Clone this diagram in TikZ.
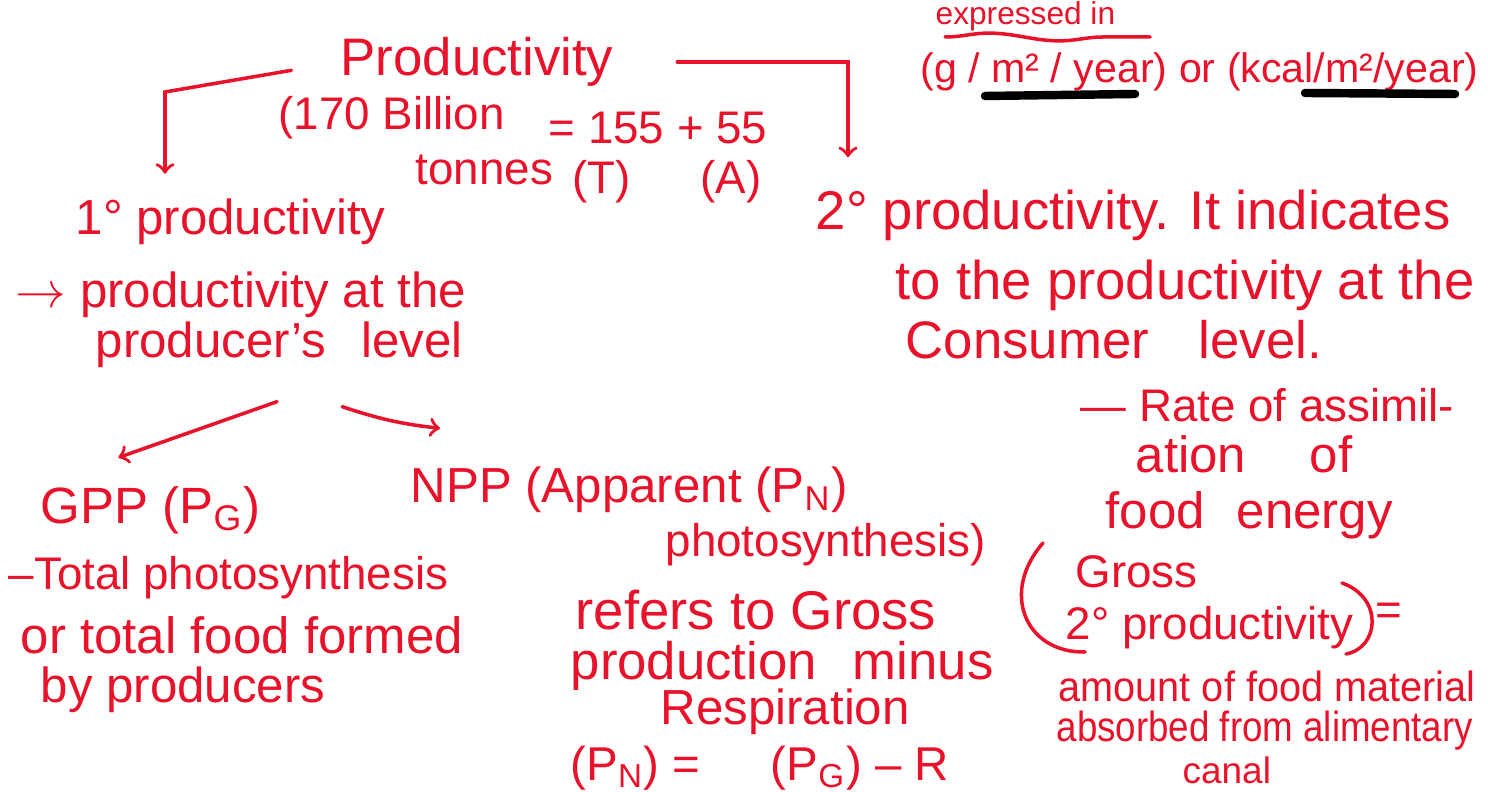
\documentclass[tikz,border=0pt]{standalone}
\usepackage{fontspec}
\setmainfont{Liberation Sans}
\usepackage{tikz}
\usetikzlibrary{positioning, arrows, calc, decorations.pathmorphing}
\definecolor{ink}{RGB}{232,18,42}

\tikzset{
  note/.style={text=ink, font=\fontsize{#1}{#1}\selectfont, inner sep=0pt, anchor=west},
  note/.default=13,
  pen/.style={draw=ink, line width=1pt, line cap=round},
  arr/.style={pen, ->},
  bar/.style={draw=black, line width=2.4pt, line cap=round}
}

\begin{document}
\begin{tikzpicture}[x=0.01cm, y=-0.01cm, >=to]
  \useasboundingbox (0,0) rectangle (1488,792);
  \fill[white] (0,0) rectangle (1488,792);

  % top: units
  \node[note=9] (expr) at (935,16) {expressed in};
  \draw[pen, decorate, decoration={snake, amplitude=1.1pt, segment length=40}] (945,37) -- (1150,37);
  \node[note=11.7] (unit) at (920,72) {(g / m² / year) or (kcal/m²/year)};
  \draw[bar] (985,96) -- (1135,94);
  \draw[bar] (1305,93) -- (1455,94);

  % productivity
  \node[note=15] (prod) at (340,62) {Productivity};
  \node[note] (bil) at (278,118) {(170 Billion};
  \node[note] (ton) at (415,170) {tonnes};
  \node[note] (sum) at (548,128) {= 155 + 55};
  \node[note] (tt) at (572,182) {(T)};
  \node[note] (aa) at (700,182) {(A)};

  % primary
  \node[note=14] (prim) at (75,222) {1° productivity};
  \node[note=14] (lev) at (15,295) {$\rightarrow$ productivity at the};
  \node[note=14] (lvl) at (95,345) {producer's\hspace{6pt} level};

  \node[note=14.5] (gpp) at (40,510) {GPP (P\textsubscript{G})};
  \node[note] (tot1) at (8,578) {–Total photosynthesis};
  \node[note=14.5] (tot2) at (20,635) {or total food formed};
  \node[note=14] (tot3) at (40,690) {by producers};

  \node[note=14] (npp) at (410,490) {NPP (Apparent (P\textsubscript{N})};
  \node[note] (np2) at (665,545) {photosynthesis)};
  \node[note=15.5] (np3) at (575,610) {refers to Gross};
  \node[note=15] (np4) at (570,666) {production\hspace{6pt} minus};
  \node[note=14] (np5) at (660,712) {Respiration};
  \node[note=13.5] (np6) at (570,768) {(P\textsubscript{N}) =\hspace{20pt}(P\textsubscript{G}) – R};

  % secondary
  \node[note=15.5] (sec) at (815,215) {2° productivity. It indicates};
  \node[note=15.5] (s2) at (895,285) {to the productivity at the};
  \node[note=15] (s3) at (905,340) {Consumer\hspace{10pt} level.};
  \node[note] (s4) at (1080,405) {— Rate of assimil-};
  \node[note=14.5] (s5) at (1135,454) {ation\hspace{14pt} of};
  \node[note=14.5] (s6) at (1105,515) {food\hspace{5pt} energy};
  \node[note] (gro) at (1075,572) {Gross};
  \node[note] (gro2) at (1065,628) {2° productivity};
  \node[note] (eqs) at (1375,614) {=};
  \node[note=12] (am1) at (1058,686) {\scalebox{0.94}[1]{amount of food material}};
  \node[note=12] (am2) at (1056,731) {\scalebox{0.87}[1]{absorbed from alimentary}};
  \node[note=10.5] (am3) at (1182,770) {canal};

  % brackets round gross 2° productivity
  \draw[pen] ($(gro.west)+(-32,-29)$) .. controls ($(gro.west)+(-75,20)$) and ($(gro2.west)+(-40,25)$) .. ($(gro2.west)+(20,24)$);
  \draw[pen] ($(gro2.east)+(-12,-45)$) .. controls ($(gro2.east)+(30,-30)$) and ($(gro2.east)+(25,20)$) .. ($(gro2.east)+(-8,26)$);

  % productivity -> 1° productivity
  \coordinate (lturn) at (165,92);
  \draw[arr, shorten <=14pt, shorten >=7pt] (prod.west) -- (lturn) -- (lturn |- prim.north);
  % productivity -> 2° productivity
  \coordinate (rturn) at (848,62);
  \draw[arr, shorten <=18pt, shorten >=9pt] (prod.east |- rturn) -- (rturn) -- (rturn |- sec.north);
  % producer's level -> GPP
  \draw[arr] ($(lvl.south)+(-2,33)$) -- ($(gpp.north)+(-32,-28)$);
  % producer's level -> NPP
  \draw[arr] ($(lvl.south)+(63,38)$) to[bend right=6] ($(npp.north west)+(30,-38)$);
\end{tikzpicture}
\end{document}
